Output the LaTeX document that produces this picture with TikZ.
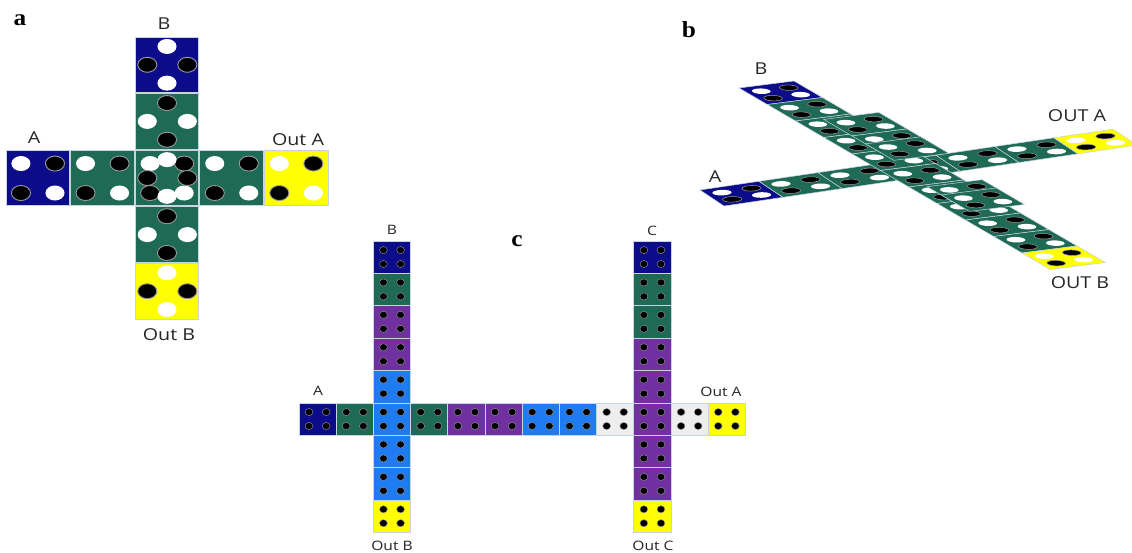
\documentclass[tikz,border=0pt]{standalone}
\usepackage{fontspec}
\newfontfamily\labfont[FakeStretch=1.2]{Open Sans}
\newfontfamily\panfont[FakeStretch=1.1]{Liberation Serif}
\definecolor{cnavy}{HTML}{0C0C8A}
\definecolor{cgreen}{HTML}{1E6A55}
\definecolor{cpurple}{HTML}{7030A0}
\definecolor{cblue}{HTML}{1E7BF2}
\definecolor{cwhite}{HTML}{EEEEEE}
\definecolor{cyellow}{HTML}{FFFF00}
\definecolor{cline}{HTML}{C5D3E2}
\definecolor{cring}{HTML}{9A9A9A}
\newcommand\dotW[2]{\fill[white] (#1,#2) ellipse [x radius=\drx, y radius=\dry];}
\newcommand\dotB[2]{\filldraw[fill=black,draw=cring,line width=\dlw] (#1,#2) ellipse [x radius=\drx, y radius=\dry];}
% panel a patterns
\newcommand\patSq{\dotW{0.235}{0.24}\dotB{0.77}{0.24}\dotB{0.235}{0.77}\dotW{0.77}{0.77}}
\newcommand\patDW{\dotW{0.5}{0.17}\dotB{0.19}{0.5}\dotB{0.82}{0.5}\dotW{0.5}{0.83}}
\newcommand\patDB{\dotB{0.5}{0.17}\dotW{0.19}{0.5}\dotW{0.82}{0.5}\dotB{0.5}{0.83}}
\newcommand\acell[4]{\begin{scope}[shift={(#1,#2)}, x=63.6pt, y=-55.6pt]
  \filldraw[fill=#3, draw=cline, line width=0.8pt] (0,0) rectangle (1,1);
  #4
\end{scope}}
% panel c
\newcommand\patC{\dotB{0.27}{0.28}\dotB{0.73}{0.28}\dotB{0.27}{0.71}\dotB{0.73}{0.71}}
\newcommand\ccell[3]{\begin{scope}[shift={(#1,#2)}, x=37.2pt, y=-32.4pt]
  \filldraw[fill=#3, draw=cline, line width=0.7pt] (0,0) rectangle (1,1);
  \patC
\end{scope}}
% panel b
\newcommand\patB{\dotW{0.25}{0.3}\dotB{0.75}{0.3}\dotB{0.25}{0.72}\dotW{0.75}{0.72}}
\newcommand\bcell[3]{%
  \filldraw[fill=#3, draw=cline, line width=0.5pt] (#1,#2) -- ++(1,0) -- ++(0,1) -- ++(-1,0) -- cycle;
  \begin{scope}[shift={(#1,#2)}]\patB\end{scope}}
\tikzset{
  lab/.style={font=\labfont\fontsize{16.4}{18}\selectfont, text=black!85, inner sep=0pt},
  labc/.style={font=\labfont\fontsize{13}{15}\selectfont, text=black!85, inner sep=0pt},
  pan/.style={font=\panfont\bfseries\fontsize{23}{26}\selectfont, inner sep=0pt}
}
\begin{document}
\begin{tikzpicture}[x=1pt, y=-1pt]
\useasboundingbox[fill=white] (0,0) rectangle (1132,553);
% ---------------- panel a ----------------
\def\drx{0.15}\def\dry{0.135}\def\dlw{0.9pt}
\acell{6}{150.2}{cnavy}{\patSq}
\acell{70.6}{150.2}{cgreen}{\patSq}
\acell{199.8}{150.2}{cgreen}{\patSq}
\acell{264.4}{150.2}{cyellow}{\patSq}
\acell{135.2}{37}{cnavy}{\patDW}
\acell{135.2}{93.6}{cgreen}{\patDB}
\acell{135.2}{206.8}{cgreen}{\patDB}
\acell{135.2}{263.4}{cyellow}{\patDW}
\acell{135.2}{150.2}{cgreen}{\patSq\patDW}
\node[pan] (pa) at (20,20) {a};
\node[lab] (aB) at (164,24) {B};
\node[lab] (aA) at (34,138) {A};
\node[lab] (aOA) at (298,140) {Out A};
\node[lab] (aOB) at (169,335) {Out B};
% ---------------- panel b ----------------
\def\drx{0.15}\def\dry{0.155}\def\dlw{0.5pt}
\begin{scope}[shift={(700,190)}, x={(59pt,8.7pt)}, y={(24pt,-16pt)}]
  \bcell{0}{0}{cnavy}
  \foreach \k in {1,...,5}{\bcell{\k}{0}{cgreen}}
  \bcell{6}{0}{cyellow}
\end{scope}
\begin{scope}[shift={(739,88)}, x={(55pt,7pt)}, y={(28.3pt,-16.5pt)}]
  \bcell{0}{0}{cnavy}
  \foreach \k in {1,...,9}{\bcell{0}{\k}{cgreen}}
  \bcell{0}{10}{cyellow}
  \bcell{0.46}{2.1}{cgreen}
  \bcell{0.46}{3.1}{cgreen}
  \bcell{0.46}{3.58}{cgreen}
  \bcell{0.28}{6.1}{cgreen}
  \bcell{0.28}{6.6}{cgreen}
\end{scope}
\node[pan] (pb) at (689,30) {b};
\node[lab] (bB) at (761,69) {B};
\node[lab] (bOA) at (1077,116) {OUT A};
\node[lab] (bA) at (715,177) {A};
\node[lab] (bOB) at (1080,283) {OUT B};
% ---------------- panel c ----------------
\def\drx{0.105}\def\dry{0.11}\def\dlw{0.4pt}
\foreach \col [count=\k from 0] in {cnavy,cgreen,cblue,cgreen,cpurple,cpurple,cblue,cblue,cwhite,cpurple,cwhite,cyellow}
  {\ccell{299+37.2*\k}{403}{\col}}
\foreach \col [count=\r from 0] in {cnavy,cgreen,cpurple,cpurple,cblue,cblue,cblue,cblue,cyellow}
  {\ccell{373.4}{241+32.4*\r}{\col}}
\foreach \col [count=\r from 0] in {cnavy,cgreen,cgreen,cpurple,cpurple,cpurple,cpurple,cpurple,cyellow}
  {\ccell{633.8}{241+32.4*\r}{\col}}
\node[pan] (pc) at (517,241) {c};
\node[labc] (cB) at (392,230) {B};
\node[labc] (cC) at (652,231) {C};
\node[labc] (cA) at (318,391) {A};
\node[labc] (cOA) at (721,392) {Out A};
\node[labc] (cOB) at (392,546) {Out B};
\node[labc] (cOC) at (653,546) {Out C};
\end{tikzpicture}
\end{document}
